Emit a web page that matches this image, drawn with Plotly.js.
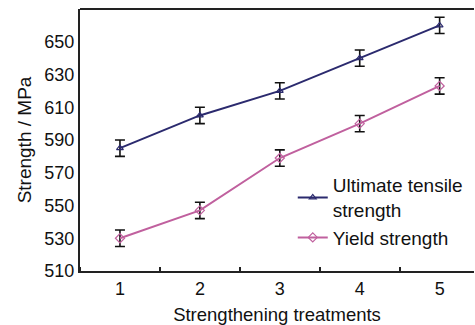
<!DOCTYPE html>
<html><head><meta charset="utf-8">
<script src="https://cdn.plot.ly/plotly-3.0.1.min.js"></script>
<style>html,body{margin:0;padding:0;background:#fff;}#c{width:475px;height:325px;}</style>
</head><body><div id="c"></div>
<script>
const treatments = [1, 2, 3, 4, 5];
const ultimate = [585, 605, 620, 640, 660];
const ultimateErr = [5, 5, 5, 5, 5];
const yieldStr = [530, 547, 579, 600, 623];
const yieldErr = [5, 5, 5, 5, 5];
const yTicks = [510, 530, 550, 570, 590, 610, 630, 650];

const font = {family: 'Liberation Sans, Arial, sans-serif', color: '#111'};
const traces = [
  {x: treatments, y: ultimate, name: 'Ultimate tensile<br>strength', mode: 'lines+markers',
   line: {color: '#2b2a6e', width: 2},
   marker: {symbol: 'triangle-up-open', size: 6, color: '#2b2a6e', line: {width: 1.2}},
   error_y: {type: 'data', array: ultimateErr, color: '#111', thickness: 1.6, width: 5}},
  {x: treatments, y: yieldStr, name: 'Yield strength', mode: 'lines+markers',
   line: {color: '#c0609e', width: 2},
   marker: {symbol: 'diamond-open', size: 7, color: '#c0609e', line: {width: 1.2}},
   error_y: {type: 'data', array: yieldErr, color: '#111', thickness: 1.6, width: 5}}
];
const layout = {
  width: 475, height: 325,
  margin: {l: 80, r: 1, t: 9, b: 54},
  paper_bgcolor: '#fff', plot_bgcolor: '#fff',
  font: Object.assign({size: 18}, font),
  showlegend: true,
  legend: {x: 0.54, y: 0.40, xanchor: 'left', yanchor: 'top', bgcolor: 'rgba(0,0,0,0)',
           font: Object.assign({size: 19}, font), tracegroupgap: 0, itemwidth: 30},
  xaxis: {range: [0.5, 5.43], tickvals: treatments, ticks: '', showgrid: false, zeroline: false,
          showline: true, linecolor: '#222', linewidth: 2,
          minor: {tick0: 0.5, dtick: 1, ticks: 'inside', ticklen: 4, tickcolor: '#222', tickwidth: 2, showgrid: false},
          tickfont: Object.assign({size: 18}, font),
          title: {text: 'Strengthening treatments', font: Object.assign({size: 18.5}, font), standoff: 10}},
  yaxis: {range: [510, 670], tickvals: yTicks, ticks: '', showgrid: false, zeroline: false,
          showline: true, linecolor: '#222', linewidth: 2,
          tickfont: Object.assign({size: 18}, font),
          title: {text: 'Strength / MPa', font: Object.assign({size: 19}, font), standoff: 8}},
  shapes: [{type: 'line', xref: 'paper', yref: 'paper', x0: 0, x1: 1, y0: 1, y1: 1,
            line: {color: '#222', width: 2}}]
};
Plotly.newPlot('c', traces, layout, {staticPlot: true});
</script></body></html>
